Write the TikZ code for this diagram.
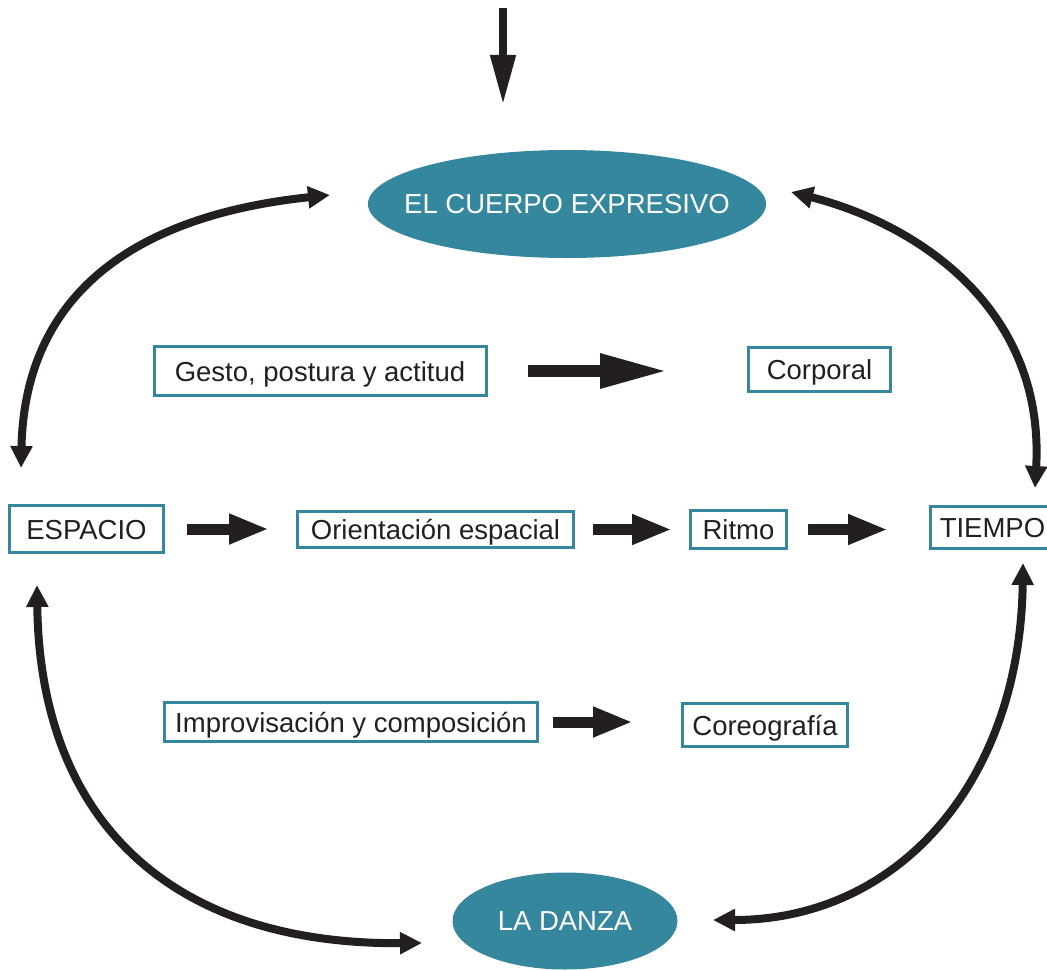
\documentclass[tikz,border=0pt]{standalone}
\usepackage{fontspec}
\setmainfont{Liberation Sans}
\usepackage{xcolor}
\definecolor{cTeal}{HTML}{35879D}
\definecolor{cInk}{HTML}{231F20}
\usepackage{tikz}
\usetikzlibrary{arrows.meta,shapes.geometric,calc}
\tikzset{
  node-box/.style={draw=cTeal,line width=3pt,text=cInk,inner sep=0pt,
    text height=20pt,text depth=0pt,align=center},
  node-oval/.style={ellipse,fill=cTeal,text=white,inner sep=0pt},
  arrow-block/.style={-{Triangle[length=40pt,width=28pt]},line width=11pt,draw=cInk},
  arrow-big/.style={-{Triangle[length=68pt,width=32pt]},line width=12pt,draw=cInk},
  arrow-down/.style={-{Triangle[length=50pt,width=24pt]},line width=8pt,draw=cInk},
  arrow-loop/.style={{Triangle[length=22pt,width=21pt]}-{Triangle[length=22pt,width=21pt]},
    line width=8pt,draw=cInk},
}

\begin{document}
\begin{tikzpicture}[x=1pt,y=-1pt,every node/.style={font=\fontsize{27.5}{33}\selectfont}]
  \useasboundingbox (0,0) rectangle (1047,970);
  % ovals
  \node[node-oval,inner xsep=-22pt,minimum width=395pt,minimum height=108pt] (cuerpo) at (567,204) {EL CUERPO EXPRESIVO};
  \node[node-oval,minimum width=225pt,minimum height=97pt] (danza) at (565,921) {LA DANZA};
  % boxes
  \node[node-box,minimum width=332pt,minimum height=49pt] (gesto) at (320,371) {Gesto, postura y actitud};
  \node[node-box,minimum width=142pt,minimum height=44pt] (corporal) at (819.5,369.5) {Corporal};
  \node[node-box,minimum width=154pt,minimum height=47pt] (espacio) at (86.5,529) {ESPACIO};
  \node[node-box,minimum width=276pt,minimum height=36pt] (orient) at (435.5,529.5) {Orientación espacial};
  \node[node-box,minimum width=96pt,minimum height=38pt] (ritmo) at (738.5,529.5) {Ritmo};
  \node[node-box,minimum width=124pt,minimum height=42pt] (tiempo) at (992.5,527) {TIEMPO};
  \node[node-box,minimum width=373pt,minimum height=39pt] (improv) at (351,722) {Improvisación y composición};
  \node[node-box,minimum width=165pt,minimum height=43pt] (coreo) at (765,725) {Coreografía};
  % free ends
  \coordinate (inicio) at (503,8);
  \coordinate (espacio-up) at (21,468);
  \coordinate (cuerpo-left) at (330,195);
  \coordinate (cuerpo-right) at (791,192);
  \coordinate (tiempo-up) at (1035,488);
  \coordinate (espacio-down) at (37,585);
  \coordinate (danza-left) at (422,943);
  \coordinate (tiempo-down) at (1023,563);
  \coordinate (danza-right) at (713,920);
  % straight arrows
  \draw[arrow-down,shorten >=45pt] (inicio) -- (inicio |- cuerpo.north);
  \draw[arrow-big,shorten <=40pt,shorten >=79pt] (gesto.east) -- (gesto.east -| corporal.west);
  \draw[arrow-block,shorten <=22pt,shorten >=27pt] (espacio.east) -- (espacio.east -| orient.west);
  \draw[arrow-block,shorten <=18pt,shorten >=17pt] (orient.east) -- (orient.east -| ritmo.west);
  \draw[arrow-block,shorten <=20pt,shorten >=41pt] (ritmo.east) -- (ritmo.east -| tiempo.west);
  \draw[arrow-block,shorten <=14pt,shorten >=48pt] (improv.east) -- (improv.east -| coreo.west);
  % curved arrows
  \draw[arrow-loop] (espacio-up) .. controls (25,290) and (140,215) .. (cuerpo-left);
  \draw[arrow-loop] (cuerpo-right) .. controls (920,225) and (1045,310) .. (tiempo-up);
  \draw[arrow-loop] (espacio-down) .. controls (40,820) and (170,945) .. (danza-left);
  \draw[arrow-loop] (tiempo-down) .. controls (1020,780) and (900,920) .. (danza-right);
\end{tikzpicture}
\end{document}
